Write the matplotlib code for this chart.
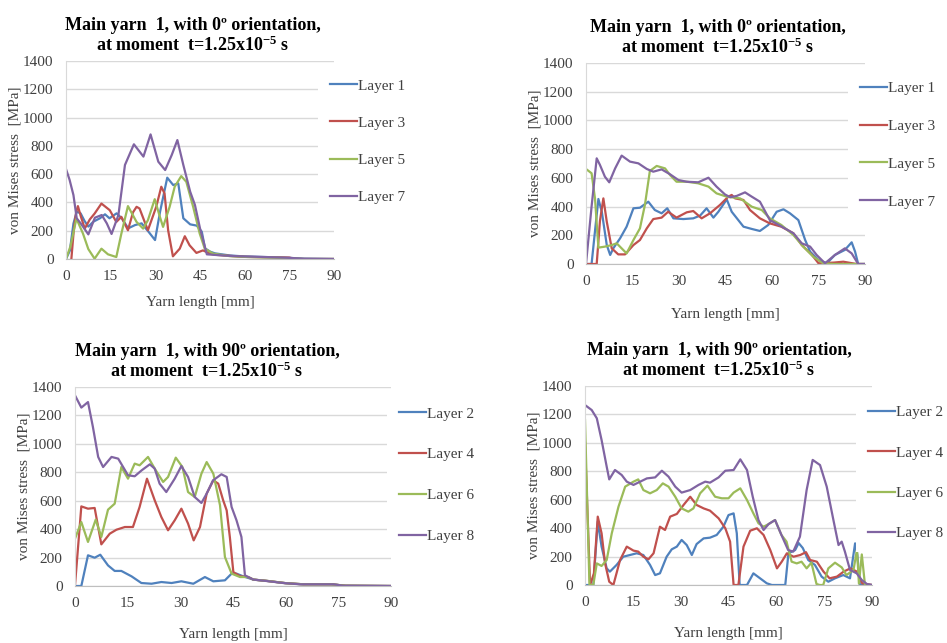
import matplotlib
matplotlib.use("Agg")
import matplotlib.pyplot as plt

plt.rcParams['font.family'] = ['Liberation Serif', 'DejaVu Serif']
plt.rcParams['mathtext.fontset'] = 'custom'
plt.rcParams['mathtext.rm'] = 'Liberation Serif'
plt.rcParams['mathtext.bf'] = 'Liberation Serif:bold'
plt.rcParams['mathtext.it'] = 'Liberation Serif:italic'

# ---------------- data ----------------
x_ticks = [0, 15, 30, 45, 60, 75, 90]
y_ticks = [0, 200, 400, 600, 800, 1000, 1200, 1400]

title_0 = "Main yarn  1, with 0º orientation,\nat moment  t=1.25x10$^{\\mathbf{-5}}$ s"
title_90 = "Main yarn  1, with 90º orientation,\nat moment  t=1.25x10$^{\\mathbf{-5}}$ s"
x_label = "Yarn length [mm]"
y_label = "von Mises stress  [MPa]"

labels_odd = ["Layer 1", "Layer 3", "Layer 5", "Layer 7"]
labels_even = ["Layer 2", "Layer 4", "Layer 6", "Layer 8"]

# Top-left panel (0 deg)
tl_x1 = [0, 1.3, 2.5, 3.6, 4.9, 6.2, 7.5, 9.2, 11.4, 13.1, 14.6, 17, 18.7, 20.9, 23.2, 25.4, 27.7, 29.9, 31.6, 34, 36, 37.7, 39.4, 41.7, 43.9, 45.6, 46.7, 48.4, 50, 55, 60, 65, 70, 75, 80, 90]
tl_y1 = [0, 60, 250, 335, 323, 270, 229, 264, 288, 316, 288, 323, 288, 217, 240, 252, 193, 134, 335, 575, 523, 535, 288, 245, 236, 193, 75, 52, 40, 25, 18, 15, 12, 8, 2, 0]
tl_x3 = [1.8, 2.6, 3.4, 4.0, 5.0, 6.3, 8.0, 9.6, 11.9, 14.7, 16.9, 18.6, 20.8, 22.5, 23.7, 24.7, 27.5, 30.3, 32.0, 33.1, 34.3, 35.9, 38.2, 39.9, 41.5, 43.8, 46.0, 48.3, 50, 55, 60, 65, 70, 75, 77, 90]
tl_y3 = [0, 200, 330, 374, 300, 215, 280, 321, 392, 345, 262, 298, 203, 330, 369, 357, 203, 369, 511, 463, 203, 19, 73, 161, 97, 43, 61, 38, 30, 22, 15, 13, 12, 10, 0, 0]
tl_x5 = [0, 1.5, 3.5, 5.7, 7.5, 9.6, 11.9, 14.1, 16.9, 18.6, 20.8, 23.7, 25.9, 27.5, 29.8, 31.5, 32.6, 34.8, 36.5, 38.7, 40.4, 42.7, 44.9, 46.6, 49.4, 55, 60, 65, 70, 75, 80, 90]
tl_y5 = [0, 90, 286, 180, 70, 2, 73, 33, 14, 180, 374, 262, 215, 274, 423, 300, 227, 369, 511, 586, 546, 369, 180, 73, 38, 20, 15, 12, 10, 6, 0, 0]
tl_x7 = [0, 1.2, 2.5, 3.6, 5.0, 7.5, 9.7, 12.0, 13.7, 15.3, 17.6, 19.8, 22.8, 26.0, 28.4, 31.0, 33.3, 35.5, 37.4, 39.4, 41.7, 43.3, 45.0, 47.3, 50.6, 55, 60, 65, 70, 75, 80, 90]
tl_y7 = [636, 560, 452, 288, 250, 174, 292, 311, 252, 177, 311, 665, 811, 724, 881, 688, 629, 735, 841, 665, 476, 382, 217, 33, 28, 22, 18, 15, 12, 8, 2, 0]

# Top-right panel (0 deg)
tr_x1 = [0, 1.8, 3.0, 4.0, 5.1, 6.7, 7.8, 8.8, 11.0, 13.1, 15.3, 17.4, 20.1, 22.2, 24.4, 26.2, 28.2, 31.4, 34.6, 36.8, 38.9, 41.1, 42.7, 45.4, 47.0, 50.8, 53.5, 56.1, 58.8, 61.5, 63.7, 65.8, 68.5, 70.7, 72.3, 75.0, 77.7, 80.3, 83.5, 85.7, 86.8, 87.8, 90]
tr_y1 = [0, 0, 250, 453, 364, 132, 63, 109, 179, 260, 388, 392, 434, 376, 353, 388, 318, 313, 318, 337, 388, 323, 364, 450, 364, 260, 244, 230, 272, 364, 381, 353, 306, 167, 86, 28, 5, 63, 98, 151, 86, 0, 0]
tr_x3 = [0, 3.45, 4.5, 5.6, 6.7, 8.3, 10.4, 12.6, 15.3, 17.4, 19.6, 21.7, 24.4, 26.5, 29.2, 32.5, 34.6, 37.3, 40.0, 43.2, 45.9, 47.0, 48.1, 50.8, 52.9, 56.1, 59.3, 63.0, 66.9, 69.6, 72.9, 75.0, 80, 83.0, 87.3, 90]
tr_y3 = [0, 0, 300, 457, 295, 109, 67, 67, 132, 167, 248, 313, 323, 364, 323, 360, 369, 318, 353, 411, 469, 481, 457, 446, 376, 318, 283, 260, 214, 132, 63, 5, 10, 16, 0, 0]
tr_x5 = [0, 1.8, 2.9, 4.0, 6.1, 8.3, 9.9, 12.0, 13.1, 15.3, 17.4, 19.0, 20.6, 22.8, 25.5, 27.1, 29.2, 32.5, 36.2, 39.5, 42.1, 45.4, 49.7, 53.5, 56.7, 59.3, 63.0, 66.9, 70.1, 73.3, 76.5, 80, 90]
tr_y5 = [662, 632, 457, 114, 121, 132, 144, 98, 74, 167, 248, 411, 648, 683, 666, 620, 573, 573, 562, 539, 492, 469, 457, 399, 376, 318, 272, 202, 121, 51, 5, 0, 0]
tr_x7 = [0, 1.8, 3.45, 4.5, 6.1, 7.5, 9.4, 11.5, 14.2, 16.9, 19.6, 21.7, 24.4, 27.1, 29.8, 32.5, 36.2, 39.5, 42.1, 44.8, 46.5, 48.6, 51.3, 53.4, 56.1, 59.3, 62.6, 66.9, 69.6, 72.3, 74.4, 77.1, 80.3, 83.5, 85.7, 87.8, 90]
tr_y7 = [0, 400, 736, 690, 608, 569, 666, 755, 713, 701, 662, 643, 659, 625, 585, 573, 569, 601, 539, 485, 465, 474, 499, 470, 434, 306, 267, 214, 144, 121, 63, 5, 63, 109, 74, 0, 0]

# Bottom-left panel (90 deg)
bl_x2 = [0, 1.8, 3.7, 5.6, 7.2, 9.4, 11.3, 13.2, 16.1, 18.9, 21.8, 24.6, 27.5, 30.3, 33.7, 37.0, 39.4, 42.7, 44.6, 46.0, 47.9, 50.8, 55, 60, 65, 70, 73, 77, 90]
bl_y2 = [0, 0, 216, 199, 220, 145, 106, 106, 68, 21, 16, 28, 21, 33, 16, 63, 33, 40, 87, 87, 68, 45, 35, 20, 12, 12, 12, 2, 0]
bl_x4 = [0, 1.8, 3.7, 5.6, 7.5, 9.9, 11.8, 14.2, 16.5, 18.4, 20.5, 22.7, 24.6, 26.5, 28.4, 30.3, 32.2, 33.8, 35.6, 37.5, 39.4, 40.8, 42.2, 43.2, 44.1, 45.1, 47.0, 49.3, 50.8, 55, 60, 65, 70, 73, 77, 90]
bl_y4 = [5, 560, 544, 549, 293, 368, 396, 415, 415, 556, 755, 603, 485, 392, 462, 544, 439, 321, 415, 650, 743, 720, 603, 532, 345, 98, 68, 63, 45, 35, 20, 12, 12, 12, 2, 0]
bl_x6 = [0, 1.8, 3.7, 5.9, 7.5, 9.4, 11.3, 13.2, 15.1, 17.0, 18.4, 20.8, 22.7, 25.1, 26.5, 28.7, 30.6, 32.2, 34.1, 36.0, 37.5, 39.4, 41.3, 42.7, 44.6, 47.0, 49.3, 50.8, 55, 60, 65, 70, 73, 77, 90]
bl_y6 = [333, 450, 310, 467, 345, 537, 579, 837, 755, 861, 849, 908, 826, 732, 767, 903, 837, 661, 626, 790, 872, 790, 568, 204, 87, 63, 63, 45, 35, 20, 12, 12, 12, 2, 0]
bl_x8 = [0, 1.8, 3.7, 5.1, 6.6, 8.0, 10.4, 12.3, 15.1, 17.0, 19.0, 21.3, 22.7, 24.1, 26.0, 28.4, 30.3, 32.2, 34.1, 36.0, 37.5, 39.3, 41.7, 43.2, 44.6, 46.0, 47.4, 48.4, 50.8, 54.6, 59.3, 64.1, 73.6, 76.4, 90]
bl_y8 = [1341, 1255, 1294, 1119, 908, 837, 908, 896, 779, 772, 814, 856, 826, 720, 661, 755, 844, 767, 626, 584, 650, 743, 786, 767, 556, 462, 345, 75, 45, 35, 21, 12, 12, 2, 0]

# Bottom-right panel (90 deg)
br_x2 = [0, 2.6, 4.0, 5.2, 6.8, 7.8, 9.9, 12.0, 14.1, 16.2, 18.3, 20.4, 22.0, 23.5, 25.6, 27.2, 28.8, 30.3, 31.9, 33.5, 35.0, 37.2, 39.2, 41.3, 43.4, 45.0, 46.6, 47.6, 48.5, 50.8, 52.8, 54.9, 57.0, 58.6, 62.8, 63.8, 65.9, 67.0, 68.3, 70.0, 72.1, 74.2, 76.3, 78.4, 81.0, 83.1, 84.7, 85.4, 86.2, 90]
br_y2 = [0, 0, 446, 270, 117, 94, 141, 199, 211, 223, 211, 141, 70, 82, 199, 251, 270, 317, 281, 211, 288, 328, 333, 352, 410, 492, 504, 364, 0, 0, 82, 47, 12, 0, 0, 223, 246, 295, 260, 176, 141, 59, 23, 47, 70, 47, 293, 211, 0, 0]
br_x4 = [0, 1.6, 2.8, 4.0, 5.2, 6.3, 7.6, 8.9, 11.0, 13.1, 15.2, 16.7, 18.3, 19.9, 21.5, 23.5, 25.1, 26.7, 28.8, 30.9, 33.0, 35.0, 37.2, 39.2, 41.9, 44.0, 45.5, 46.6, 48.1, 49.7, 51.8, 53.9, 56.0, 58.1, 60.2, 61.7, 63.3, 65.4, 67.5, 69.3, 70.6, 72.7, 74.8, 76.7, 79.0, 81.1, 83.2, 85.3, 86.9, 90]
br_y4 = [1000, 0, 82, 481, 364, 152, 23, 0, 176, 270, 242, 235, 199, 181, 223, 410, 387, 481, 500, 563, 621, 563, 539, 523, 469, 399, 305, 0, 0, 270, 382, 399, 352, 246, 117, 164, 223, 199, 211, 231, 176, 164, 94, 47, 59, 94, 117, 94, 12, 0]
br_x6 = [0, 1.4, 2.6, 3.7, 5.2, 6.8, 8.4, 10.5, 12.6, 15.2, 16.7, 18.3, 20.4, 22.5, 24.4, 26.2, 28.3, 30.3, 32.4, 34.0, 36.1, 38.4, 40.8, 42.9, 45.0, 46.6, 48.7, 50.8, 52.8, 54.4, 56.0, 57.6, 59.6, 61.6, 63.2, 64.8, 66.4, 67.9, 69.5, 71.0, 72.6, 73.6, 74.7, 76.3, 78.4, 80.5, 82.0, 84.2, 85.3, 85.9, 86.8, 87.8, 90]
br_y6 = [1161, 0, 0, 152, 134, 176, 364, 551, 692, 727, 743, 668, 645, 668, 715, 692, 621, 539, 516, 539, 645, 699, 621, 610, 610, 650, 680, 598, 504, 434, 410, 429, 457, 352, 305, 164, 152, 164, 117, 157, 7, 0, 0, 117, 157, 124, 70, 106, 250, 10, 215, 0, 0]
br_x8 = [0, 2.1, 3.7, 5.2, 6.8, 7.6, 9.4, 11.5, 13.1, 15.2, 17.3, 19.4, 22.0, 24.1, 26.2, 28.3, 30.3, 33.0, 35.6, 37.7, 39.2, 41.9, 44.0, 46.6, 48.7, 50.8, 52.6, 54.4, 56.0, 57.6, 59.6, 61.6, 63.7, 65.3, 67.4, 69.5, 71.4, 73.7, 75.8, 77.9, 79.5, 80.5, 81.5, 83.1, 85.2, 86.8, 88.4, 90]
br_y8 = [1266, 1231, 1173, 1020, 833, 743, 809, 774, 727, 704, 727, 750, 757, 804, 762, 692, 650, 668, 704, 727, 720, 757, 804, 809, 884, 809, 621, 457, 387, 429, 457, 352, 246, 235, 340, 668, 880, 844, 692, 457, 281, 305, 235, 106, 82, 35, 7, 0]

# ---------------- styling ----------------
colors = ['#4F81BD', '#C0504D', '#9BBB59', '#8064A2']
W, H = 947, 643

panels = [
    dict(rect=(66, 61, 334, 259), title=title_0, tx=0.474, labels=labels_odd,
         series=[(tl_x1, tl_y1), (tl_x3, tl_y3), (tl_x5, tl_y5), (tl_x7, tl_y7)],
         leg=(318, 141.5), lsp=1.53, xpad=9),
    dict(rect=(586, 63, 865, 264), title=title_0, tx=0.473, labels=labels_odd,
         series=[(tr_x1, tr_y1), (tr_x3, tr_y3), (tr_x5, tr_y5), (tr_x7, tr_y7)],
         leg=(848, 145), lsp=1.59, xpad=14),
    dict(rect=(75, 387, 391, 586), title=title_90, tx=0.418, labels=labels_even,
         series=[(bl_x2, bl_y2), (bl_x4, bl_y4), (bl_x6, bl_y6), (bl_x8, bl_y8)],
         leg=(387, 475), lsp=1.77, xpad=13),
    dict(rect=(585, 386, 872, 585), title=title_90, tx=0.467, labels=labels_even,
         series=[(br_x2, br_y2), (br_x4, br_y4), (br_x6, br_y6), (br_x8, br_y8)],
         leg=(856, 473), lsp=1.74, xpad=13),
]

fig = plt.figure(figsize=(W / 100, H / 100), dpi=100)

for p in panels:
    x0, y0, x1, y1 = p['rect']
    ax = fig.add_axes([x0 / W, 1 - y1 / H, (x1 - x0) / W, (y1 - y0) / H])
    for (xs, ys), c, lab in zip(p['series'], colors, p['labels']):
        ax.plot(xs, ys, color=c, lw=1.6, label=lab, solid_joinstyle='round')
    ax.set_xlim(0, 90)
    ax.set_ylim(0, 1400)
    ax.set_xticks(x_ticks)
    ax.set_yticks(y_ticks)
    ax.tick_params(length=0, labelsize=11, colors='#404040')
    ax.tick_params(axis='y', pad=9)
    ax.tick_params(axis='x', pad=8)
    ax.grid(axis='y', color='#d9d9d9', lw=1)
    ax.set_axisbelow(True)
    for s in ['top', 'right']:
        ax.spines[s].set_visible(False)
    ax.spines['left'].set_color('#d9d9d9')
    ax.spines['bottom'].set_color('#bfbfbf')
    ax.set_xlabel(x_label, fontsize=11, color='#404040', labelpad=p['xpad'])
    ax.set_ylabel(y_label, fontsize=11, color='#404040', labelpad=1)
    ax.set_title(p['title'], fontsize=13, fontweight='bold', x=p['tx'], pad=7,
                 linespacing=1.15)
    lx, ly = p['leg']
    leg = ax.legend(loc='center left', bbox_to_anchor=(lx / W, 1 - ly / H),
                    bbox_transform=fig.transFigure, fontsize=11, frameon=True,
                    borderpad=0.8, borderaxespad=0, handlelength=1.75,
                    handletextpad=0.1, labelspacing=p['lsp'], fancybox=False)
    leg.get_frame().set_facecolor('white')
    leg.get_frame().set_edgecolor('none')
    leg.get_frame().set_alpha(1)
    for t in leg.get_texts():
        t.set_color('#404040')

fig.savefig('out.png', dpi=100, facecolor='white')
